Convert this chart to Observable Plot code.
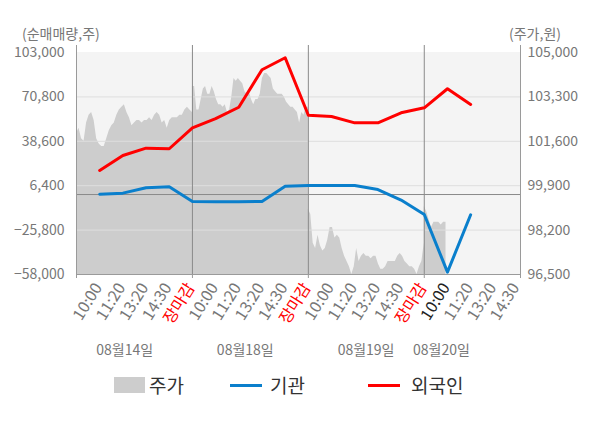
<!DOCTYPE html>
<html><head><meta charset="utf-8">
<script src="https://cdn.jsdelivr.net/npm/d3@7"></script>
<script src="https://cdn.jsdelivr.net/npm/@observablehq/plot@0.6"></script>
<style>
body{margin:0;background:#fff;font-family:"Noto Sans CJK KR","Noto Sans",sans-serif;}
#wrap{position:relative;width:600px;height:428px;overflow:hidden;}
#wrap svg{position:absolute;left:0;top:0;}
.ttl{position:absolute;font-size:14px;color:#777;line-height:16px;top:25px;}
.lg{position:absolute;font-size:19px;color:#333;line-height:22px;top:374px;}
.sw{position:absolute;}
</style></head><body><div id="wrap"></div>
<script>
// x-axis categories (one per position 1..19)
const timeLabels = ["10:00","11:20","13:20","14:30","장마감",
                    "10:00","11:20","13:20","14:30","장마감",
                    "10:00","11:20","13:20","14:30","장마감",
                    "10:00","11:20","13:20","14:30"];
const currentLabel = 16; // highlighted (dark) tick label position
const dayNames = ["08월14일","08월18일","08월19일","08월20일"];
const dayLabelAt = [2.08, 7.28, 12.49, 15.74];

// net buying (shares), positions 1..17
const institution = [200,1000,4900,5600,-5100,-5300,-5300,-5000,6000,6500,6500,6500,3600,-4000,-14500,-56300,-14700];
const foreign = [17400,28300,33600,33200,48400,55000,63300,90500,99200,57500,56600,52000,52000,59300,62900,76700,65300];

// intraday price (원) per day
const priceDay1 = [101900,102100,101700,101600,102300,102600,102700,102400,101700,101500,101400,101400,101700,102000,102200,102300,102600,102800,102900,103000,102700,102500,102200,102300,102400,102400,102300,102400,102400,102500,102400,102600,102700,102600,102300,102400,102100,102400,102500,102500,102500,102600,102600,102800,102900,102800,102700];
const priceDay2 = [103700,103700,102800,102800,103200,103600,103700,103400,103400,103700,103500,103200,103000,103000,102900,103000,102700,102800,103300,104000,103900,104000,103900,103800,103500,103400,103500,103200,103000,103200,103200,103400,104000,104200,104200,104100,104000,103600,103500,103400,103400,103400,103300,103100,103000,102900,102900,102800,102700,102300,102700,102600,102900,102900];
const priceDay3 = [99000,98800,97700,97500,98000,97600,97400,97500,97800,98300,98300,97900,98000,97900,97500,97200,97000,96800,96500,96800,97500,97000,97200,97300,97200,97200,97100,97200,97200,96900,96700,96700,96800,97000,97000,97000,97000,97200,97300,97200,97000,96900,96800,96800,96700,96500,96800,97000,97700];
const priceDay4 = [99100,98900,98600,98300,98500,98500,98500,98400,98500,98500];

const leftTicks = [-58000,-25800,6400,38600,70800,103000];
const priceTicks = [96500,98200,99900,101600,103300,105000];

const yDom = [-58000, 103000];
const pDom = [96500, 105000];
const xDom = [0, 19.15];
const toLeft = p => yDom[0] + (p - pDom[0]) * (yDom[1] - yDom[0]) / (pDom[1] - pDom[0]);
const fromLeft = v => pDom[0] + (v - yDom[0]) * (pDom[1] - pDom[0]) / (yDom[1] - yDom[0]);

// build price rows: completed days stretch over 5 positions; the running day uses the previous day's step
const days = [priceDay1, priceDay2, priceDay3, priceDay4];
const priceRows = [];
let lastStep = 5 / 48;
days.forEach((arr, d) => {
  const full = d < days.length - 1;
  const step = full ? 5 / (arr.length - 1) : lastStep;
  if (full) lastStep = step;
  arr.forEach((p, i) => priceRows.push({t: d * 5 + i * step, p}));
});

const instRows = institution.map((v, i) => ({t: i + 1, v}));
const forRows = foreign.map((v, i) => ({t: i + 1, v}));
const labelRows = timeLabels.map((l, i) => ({t: i + 1, l}));

const fmt = d3.format(",");
const FONT = '"Noto Sans CJK KR","Noto Sans",sans-serif';

const chart = Plot.plot({
  width: 600, height: 428,
  marginTop: 45, marginLeft: 76, marginRight: 80, marginBottom: 154,
  x: {type: "linear", domain: xDom, axis: null},
  y: {domain: yDom, range: [274, 52], axis: null},
  style: {fontFamily: FONT, fontSize: "14px", background: "transparent", overflow: "visible"},
  marks: [
    Plot.rect([0], {x1: xDom[0], x2: xDom[1], y1: yDom[0], y2: yDom[1], fill: "#f4f4f4"}),
    Plot.areaY(priceRows, {x: "t", y1: yDom[0], y2: d => toLeft(d.p), fill: "#cdcdcd"}),
    Plot.ruleY(leftTicks.slice(1, -1), {stroke: "#dedede", strokeWidth: 1}),
    Plot.ruleY([0], {stroke: "#8a8a8a"}),
    Plot.ruleX([5, 10, 15], {stroke: "#8a8a8a"}),
    Plot.ruleX(xDom, {stroke: "#9a9a9a"}),
    Plot.ruleY([yDom[0]], {stroke: "#9a9a9a"}),
    Plot.axisX({ticks: [0, 5, 10, 15, xDom[1]], tickSize: 4, tickFormat: () => "", stroke: "#9a9a9a", label: null}),
    Plot.axisY({anchor: "left", ticks: leftTicks, tickSize: 0, tickPadding: 12, tickFormat: fmt, fill: "#777", fontSize: 14, label: null}),
    Plot.axisY({anchor: "right", ticks: priceTicks.map(toLeft), tickSize: 0, tickPadding: 7,
      tickFormat: v => fmt(Math.round(fromLeft(v) / 100) * 100), fill: "#777", fontSize: 14, label: null}),
    Plot.line(instRows, {x: "t", y: "v", stroke: "#0a7fcc", strokeWidth: 3}),
    Plot.line(forRows, {x: "t", y: "v", stroke: "#ff0000", strokeWidth: 3}),
    Plot.text(labelRows, {x: "t", text: "l", frameAnchor: "bottom", rotate: -58, textAnchor: "end",
      dx: 3, dy: 13, fontSize: 16,
      fill: d => d.l === "장마감" ? "#ff0000" : (d.t === currentLabel ? "#222" : "#777")}),
    Plot.text(dayNames, {x: (d, i) => dayLabelAt[i], text: d => d, frameAnchor: "bottom", dy: 80, fill: "#777", fontSize: 14})
  ]
});

const wrap = document.getElementById("wrap");
wrap.appendChild(chart);
wrap.insertAdjacentHTML("beforeend", `
  <div class="ttl" style="left:22px">(순매매량,주)</div>
  <div class="ttl" style="left:509px">(주가,원)</div>
  <div class="sw" style="left:114px;top:377px;width:31px;height:16px;background:#cdcdcd"></div>
  <div class="lg" style="left:149px">주가</div>
  <div class="sw" style="left:230px;top:384px;width:32px;height:3px;background:#0a7fcc"></div>
  <div class="lg" style="left:270px">기관</div>
  <div class="sw" style="left:368px;top:384px;width:32px;height:3px;background:#ff0000"></div>
  <div class="lg" style="left:411px">외국인</div>
`);
</script></body></html>
